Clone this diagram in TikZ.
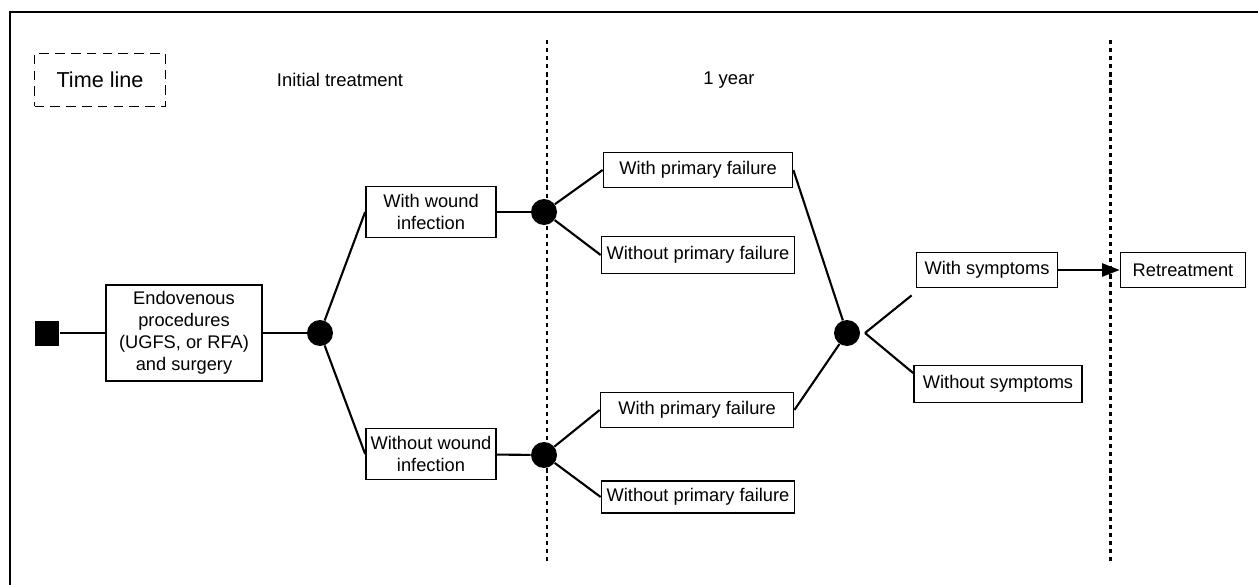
\documentclass[tikz,border=0pt]{standalone}
\usepackage{fontspec}
\setmainfont{Liberation Sans}
\usetikzlibrary{arrows.meta}

\begin{document}
\begin{tikzpicture}[x=0.02cm, y=-0.02cm,
        box/.style={draw, line width=1pt, align=center, inner sep=1pt, font=\fontsize{10.4}{12.5}\selectfont},
        chance/.style={circle, fill=black, minimum size=0.52cm, inner sep=0pt},
        period/.style={line width=1.7pt, dash pattern=on 2.4pt off 2.2pt},
        branch/.style={line width=1.2pt}]
        \useasboundingbox (0, 0) rectangle (1258, 585);
        \draw[line width=1.3pt] (10, 585) -- (10, 12) -- (1258, 12);

        % time line
        \node[draw, line width=1pt, dash pattern=on 5.5pt off 3.5pt, minimum width=2.62cm, minimum height=1.06cm, font=\fontsize{12.3}{14}\selectfont] (timeline) at (100, 80) {Time line};
        \node[font=\fontsize{10.5}{12}\selectfont] (initial) at (340, 80) {Initial treatment};
        \node[font=\fontsize{10.5}{12}\selectfont] (year) at (729, 80) {1 year};

        \foreach \x in {547, 1110} {
            \draw[period] (\x, 40) -- (\x, 565);
        }

        % tree
        \node[fill=black, minimum size=0.5cm, inner sep=0pt] (decision) at (47, 333) {};
        \node[box, minimum width=3.12cm, minimum height=1.92cm] (proc) at (184, 333) {Endovenous\\procedures\\(UGFS, or RFA)\\and surgery};
        \node[chance] (c1) at (320, 333) {};

        \node[box, minimum width=2.6cm, minimum height=1.02cm] (wi) at (431, 212) {With wound\\infection};
        \node[box, minimum width=2.6cm, minimum height=1.02cm] (nwi) at (431, 454) {Without wound\\infection};
        \node[chance] (c2) at (544, 212) {};
        \node[chance] (c3) at (544, 455) {};

        \node[box, minimum width=3.78cm, minimum height=0.7cm] (pf1) at (698, 170) {With primary failure};
        \node[box, minimum width=3.86cm, minimum height=0.74cm] (npf1) at (698, 255) {Without primary failure};
        \node[box, minimum width=3.86cm, minimum height=0.7cm] (pf2) at (697, 410) {With primary failure};
        \node[box, minimum width=3.86cm, minimum height=0.64cm] (npf2) at (698, 497) {Without primary failure};

        \node[chance] (c4) at (847, 333) {};
        \coordinate (split) at (865, 333);
        \node[box, minimum width=2.82cm, minimum height=0.7cm] (sym) at (987, 270) {With symptoms};
        \node[box, minimum width=3.36cm, minimum height=0.74cm] (nsym) at (998, 384) {Without symptoms};
        \node[box, minimum width=2.5cm, minimum height=0.7cm] (ret) at (1183, 270) {Retreatment};

        \draw[branch] (decision) -- (proc);
        \draw[branch] (proc) -- (c1);
        \draw[branch] (c1) -- (wi.west);
        \draw[branch] (c1) -- (nwi.west);
        \draw[branch] (wi) -- (c2);
        \draw[branch] (nwi) -- (c3);
        \draw[branch] (c2) -- (pf1.west);
        \draw[branch] (c2) -- (npf1.west);
        \draw[branch] (c3) -- (pf2.west);
        \draw[branch] (c3) -- (npf2.west);
        \draw[branch] (pf1.east) -- (c4);
        \draw[branch] (pf2.east) -- (c4);
        \draw[branch] (split) -- ([shift={(-4, 7)}]sym.south west);
        \draw[branch] (split) -- ([shift={(0, -11)}]nsym.west);
        \draw[branch, -{Triangle[length=10pt, width=7.5pt]}] (sym) -- (ret);
    \end{tikzpicture}
\end{document}
